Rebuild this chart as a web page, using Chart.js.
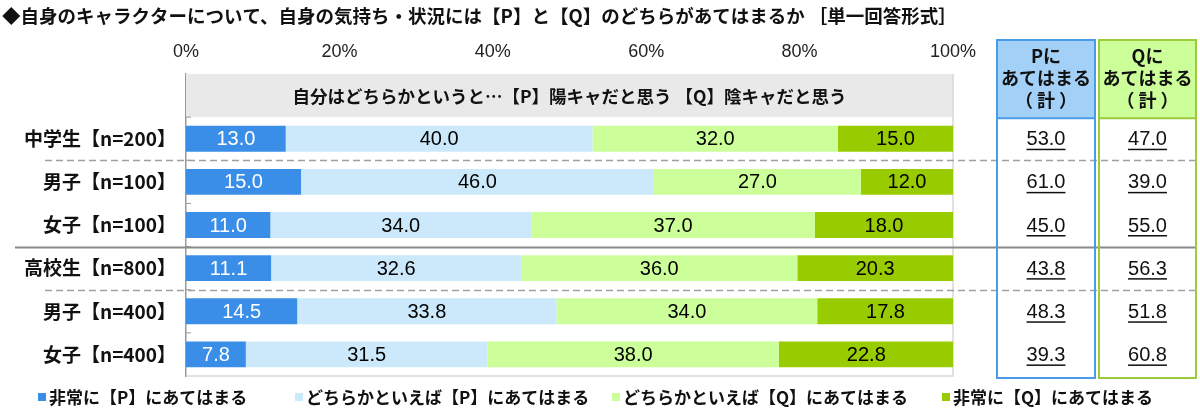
<!DOCTYPE html>
<html><head><meta charset="utf-8">
<script src="https://cdn.jsdelivr.net/npm/chart.js@4/dist/chart.umd.min.js"></script>
<style>html,body{margin:0;padding:0;background:#fff;}#wrap{width:1200px;height:415px;position:relative;}</style>
</head><body><div id="wrap"><canvas id="c" width="1200" height="415"></canvas></div>
<script>
const title = '◆自身のキャラクターについて、自身の気持ち・状況には【P】と【Q】のどちらがあてはまるか ［単一回答形式］';
const headerText = '自分はどちらかというと…【P】陽キャだと思う 【Q】陰キャだと思う';
const categories = ['', '中学生【n=200】', '男子【n=100】', '女子【n=100】', '高校生【n=800】', '男子【n=400】', '女子【n=400】'];
const seriesNames = ['非常に【P】にあてはまる', 'どちらかといえば【P】にあてはまる', 'どちらかといえば【Q】にあてはまる', '非常に【Q】にあてはまる'];
const veryP   = [null, 13.0, 15.0, 11.0, 11.1, 14.5, 7.8];
const ratherP = [null, 40.0, 46.0, 34.0, 32.6, 33.8, 31.5];
const ratherQ = [null, 32.0, 27.0, 37.0, 36.0, 34.0, 38.0];
const veryQ   = [null, 15.0, 12.0, 18.0, 20.3, 17.8, 22.8];
const totalP  = [null, 53.0, 61.0, 45.0, 43.8, 48.3, 39.3];
const totalQ  = [null, 47.0, 39.0, 55.0, 56.3, 51.8, 60.8];
const totalHeaders = [['Pに', 'あてはまる', '（ 計 ）'], ['Qに', 'あてはまる', '（ 計 ）']];
const xTickValues = [0, 20, 40, 60, 80, 100];

const colors = ['#3b8ee8', '#cce9fb', '#ccff99', '#99cc00'];
const labelColors = ['#ffffff', '#000000', '#000000', '#000000'];
const JP = '"Noto Sans CJK JP", "Noto Sans", sans-serif';
const NUM = '"Liberation Sans", Arial, sans-serif';

const seriesValues = [veryP, ratherP, ratherQ, veryQ];

const overlay = {
  id: 'overlay',
  beforeDatasetsDraw(chart) {
    const {ctx, chartArea: a, scales: {x, y}} = chart;
    const pitch = y.getPixelForValue(1) - y.getPixelForValue(0);
    const y0 = y.getPixelForValue(0);
    const xl = x.getPixelForValue(0), xr = x.getPixelForValue(100);
    ctx.save();
    ctx.fillStyle = '#e9e9e9';
    ctx.fillRect(xl, y0 - pitch / 2, xr - xl, pitch);
    ctx.fillStyle = '#111';
    ctx.font = 'bold 17.5px ' + JP;
    ctx.textAlign = 'center';
    ctx.textBaseline = 'middle';
    ctx.fillText(headerText, (xl + xr) / 2, y0 + 1);
    ctx.strokeStyle = '#d8d8d8';
    ctx.lineWidth = 1.5;
    ctx.beginPath();
    ctx.moveTo(xr, a.top); ctx.lineTo(xr, a.bottom); ctx.lineTo(xl, a.bottom);
    ctx.stroke();
    ctx.restore();
  },
  afterDatasetsDraw(chart) {
    const {ctx, chartArea: a, scales: {x, y}} = chart;
    ctx.save();
    ctx.font = '20px ' + NUM;
    ctx.textAlign = 'center';
    ctx.textBaseline = 'middle';
    chart.data.datasets.forEach((ds, di) => {
      const meta = chart.getDatasetMeta(di);
      meta.data.forEach((bar, i) => {
        const v = ds.data[i];
        if (v == null) return;
        ctx.fillStyle = labelColors[di];
        ctx.fillText(v.toFixed(1), (bar.x + bar.base) / 2, bar.y + 1);
      });
    });
    ctx.strokeStyle = '#999';
    ctx.lineWidth = 1;
    for (let i = 0; i < categories.length - 1; i++) {
      const b = (y.getPixelForValue(i) + y.getPixelForValue(i + 1)) / 2;
      ctx.beginPath(); ctx.moveTo(a.left, b); ctx.lineTo(a.left + 5, b); ctx.stroke();
    }
    const sep = (i, dashed, x0) => {
      const b = Math.round((y.getPixelForValue(i) + y.getPixelForValue(i + 1)) / 2) + 0.5;
      ctx.save();
      ctx.strokeStyle = dashed ? '#a0a0a0' : '#8a8a8a';
      ctx.lineWidth = dashed ? 1.5 : 2;
      ctx.setLineDash(dashed ? [7, 4] : []);
      ctx.beginPath(); ctx.moveTo(x0, b); ctx.lineTo(1196, b); ctx.stroke();
      ctx.restore();
    };
    sep(1, true, 45);
    sep(3, false, 15);
    sep(4, true, 45);
    const boxes = [
      {x0: 997, x1: 1095, fill: '#a3d0f7', stroke: '#4a9ce6', vals: totalP, head: totalHeaders[0]},
      {x0: 1099, x1: 1196, fill: '#ccff99', stroke: '#9ccb3b', vals: totalQ, head: totalHeaders[1]}
    ];
    const top = 40;
    const headBottom = (y.getPixelForValue(0) + y.getPixelForValue(1)) / 2 + 1;
    boxes.forEach(bx => {
      ctx.fillStyle = bx.fill;
      ctx.fillRect(bx.x0, top, bx.x1 - bx.x0, headBottom - top);
      ctx.strokeStyle = bx.stroke;
      ctx.lineWidth = 2;
      ctx.strokeRect(bx.x0, top, bx.x1 - bx.x0, a.bottom + 2 - top);
      ctx.beginPath(); ctx.moveTo(bx.x0, headBottom); ctx.lineTo(bx.x1, headBottom); ctx.stroke();
      const cx = (bx.x0 + bx.x1) / 2;
      ctx.fillStyle = '#111';
      ctx.font = 'bold 18px ' + JP;
      ctx.textAlign = 'center';
      ctx.textBaseline = 'middle';
      bx.head.forEach((t, k) => ctx.fillText(t, cx, 56 + k * 22));
      ctx.font = '20px ' + NUM;
      bx.vals.forEach((v, i) => {
        if (v == null) return;
        const t = v.toFixed(1);
        const yy = y.getPixelForValue(i) + 1;
        ctx.fillText(t, cx, yy);
        const w = ctx.measureText(t).width;
        ctx.fillRect(cx - w / 2, yy + 9, w, 1.5);
      });
    });
    ctx.fillStyle = '#111';
    ctx.font = 'bold 18.5px ' + JP;
    ctx.textAlign = 'left';
    ctx.textBaseline = 'middle';
    ctx.fillText(title, 2, 16);
    const legX = [38, 295, 612, 942];
    ctx.font = 'bold 17px ' + JP;
    chart.data.datasets.forEach((ds, di) => {
      ctx.fillStyle = ds.backgroundColor;
      ctx.fillRect(legX[di], 393, 8, 8);
      ctx.fillStyle = '#111';
      ctx.fillText(ds.label, legX[di] + 11, 398);
    });
    ctx.restore();
  }
};

new Chart(document.getElementById('c'), {
  type: 'bar',
  data: {
    labels: categories,
    datasets: seriesValues.map((vals, i) => ({
      label: seriesNames[i],
      data: vals,
      backgroundColor: colors[i],
      borderWidth: 0,
      barPercentage: 0.6,
      categoryPercentage: 1.0
    }))
  },
  options: {
    indexAxis: 'y',
    responsive: false,
    animation: false,
    devicePixelRatio: 1,
    layout: {padding: {left: 0, right: 247, top: 38, bottom: 39}},
    plugins: {legend: {display: false}, tooltip: {enabled: false}, title: {display: false}},
    scales: {
      x: {
        stacked: true, position: 'top', min: 0, max: 100,
        afterBuildTicks: s => { s.ticks = xTickValues.map(v => ({value: v})); },
        afterFit: s => { s.height = 36; },
        grid: {display: false, drawTicks: false},
        border: {display: false},
        ticks: {callback: v => v + '%', font: {family: NUM, size: 18}, color: '#222', padding: 11, maxRotation: 0}
      },
      y: {
        stacked: true,
        afterFit: s => { s.width = 186; },
        grid: {display: false, drawTicks: false},
        border: {display: true, color: '#999', width: 1.5},
        ticks: {font: {family: JP, size: 19, weight: 'bold'}, color: '#111', padding: 10}
      }
    }
  },
  plugins: [overlay]
});
</script>
</body></html>
